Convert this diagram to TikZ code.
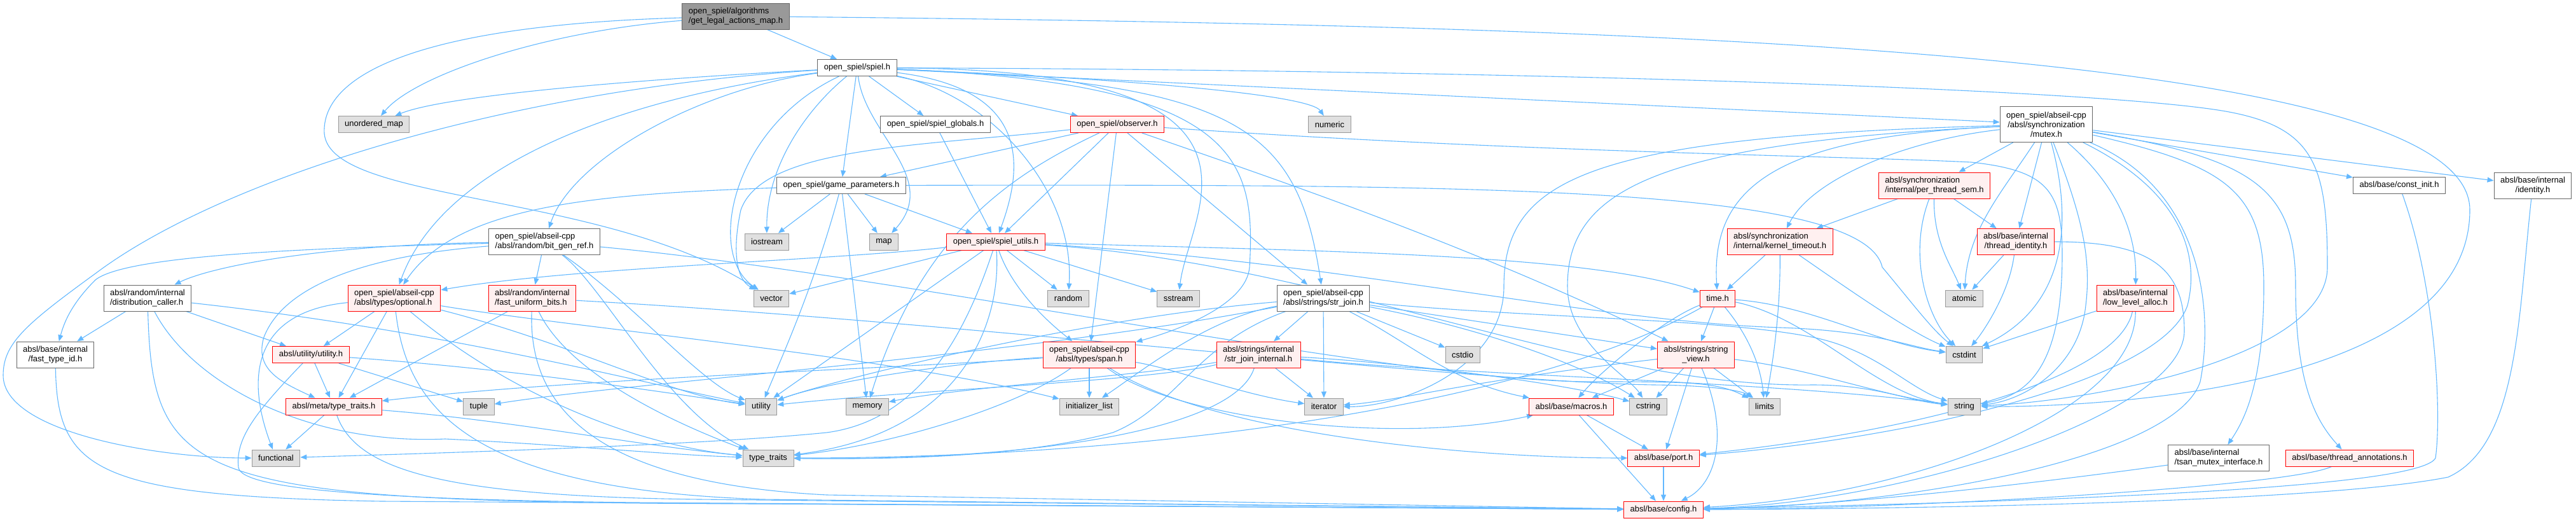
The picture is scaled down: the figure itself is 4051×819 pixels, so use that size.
\documentclass[tikz,border=0pt]{standalone}
\usepackage{fontspec}
\setmainfont{Liberation Sans}
\usetikzlibrary{arrows.meta}
\pgfdeclarelayer{bg}
\pgfsetlayers{bg,main}
\definecolor{edgec}{HTML}{63B8FF}
\definecolor{redfill}{HTML}{FFF0F0}
\definecolor{extfill}{HTML}{E0E0E0}
\definecolor{extdraw}{HTML}{999999}
\definecolor{nddraw}{HTML}{666666}
\definecolor{rootfill}{HTML}{999999}
\tikzset{
  nbox/.style={rectangle, font=\fontsize{13}{15}\selectfont, inner xsep=10pt, inner ysep=2pt, minimum height=26pt, line width=1pt, text=black},
  wn/.style={nbox, draw=nddraw, fill=white},
  xn/.style={nbox, draw=extdraw, fill=extfill},
  rn/.style={nbox, draw=red, fill=redfill},
  rootn/.style={nbox, draw=nddraw, fill=rootfill},
  twol/.style={minimum height=41pt},
  threel/.style={minimum height=56pt},
  lft/.style={align=left},
  ctr/.style={align=center},
  edg/.style={draw=edgec, line width=1.1pt, -{Triangle[length=10pt,width=8pt]}}
}
\begin{document}
\begin{tikzpicture}[x=1pt,y=-1pt]
\useasboundingbox (0,0) rectangle (4051,819);
% nodes
\node[rootn,twol,lft] (R) at (1157,25.5) {open\_spiel/algorithms\\/get\_legal\_actions\_map.h};
\node[wn] (spiel) at (1348,106.5) {open\_spiel/spiel.h};
\node[xn] (umap) at (588,195.5) {unordered\_map};
\node[wn] (globals) at (1471,195.5) {open\_spiel/spiel\_globals.h};
\node[rn] (observer) at (1757,195.5) {open\_spiel/observer.h};
\node[xn] (numeric) at (2091,195.5) {numeric};
\node[wn,threel,ctr] (mutex) at (3218,195.5) {open\_spiel/abseil-cpp\\/absl/synchronization\\/mutex.h};
\node[wn] (gp) at (1323,291.5) {open\_spiel/game\_parameters.h};
\node[rn,twol,lft] (ptsem) at (3042,291.5) {absl/synchronization\\/internal/per\_thread\_sem.h};
\node[wn] (constinit) at (3773,291.5) {absl/base/const\_init.h};
\node[wn,twol,ctr] (identity) at (3983,291.5) {absl/base/internal\\/identity.h};
\node[wn,twol,lft] (bgr) at (856,380) {open\_spiel/abseil-cpp\\/absl/random/bit\_gen\_ref.h};
\node[xn] (iostream) at (1206,380) {iostream};
\node[xn] (map) at (1390,380) {map};
\node[rn] (utils) at (1566,380) {open\_spiel/spiel\_utils.h};
\node[rn,twol,lft] (kt) at (2799,380) {absl/synchronization\\/internal/kernel\_timeout.h};
\node[rn,twol,ctr] (tid) at (3170,380) {absl/base/internal\\/thread\_identity.h};
\node[wn,twol,lft] (distc) at (232,468.5) {absl/random/internal\\/distribution\_caller.h};
\node[rn,twol,lft] (optional) at (620,468.5) {open\_spiel/abseil-cpp\\/absl/types/optional.h};
\node[rn,twol,lft] (fub) at (837,468.5) {absl/random/internal\\/fast\_uniform\_bits.h};
\node[xn] (vector) at (1213,469) {vector};
\node[xn] (random) at (1680,469) {random};
\node[xn] (sstream) at (1853,469) {sstream};
\node[wn,twol,lft] (strjoin) at (2081,468.5) {open\_spiel/abseil-cpp\\/absl/strings/str\_join.h};
\node[rn] (timeh) at (2701,469) {time.h};
\node[xn] (atomic) at (3089,469) {atomic};
\node[rn,twol,lft] (lla) at (3358,468.5) {absl/base/internal\\/low\_level\_alloc.h};
\node[wn,twol,ctr] (ftid) at (87,557.5) {absl/base/internal\\/fast\_type\_id.h};
\node[rn] (utilh) at (489,557.5) {absl/utility/utility.h};
\node[rn,twol,ctr] (span) at (1713,557.5) {open\_spiel/abseil-cpp\\/absl/types/span.h};
\node[rn,twol,ctr] (sji) at (1979,557.5) {absl/strings/internal\\/str\_join\_internal.h};
\node[xn] (cstdio) at (2300,557.5) {cstdio};
\node[rn,twol,ctr] (sv) at (2667,557.5) {absl/strings/string\\\_view.h};
\node[xn] (cstdint) at (3089,557.5) {cstdint};
\node[rn] (traits) at (525,639) {absl/meta/type\_traits.h};
\node[xn] (tuple) at (753,639) {tuple};
\node[xn] (utility) at (1197,639) {utility};
\node[xn] (memory) at (1364,639) {memory};
\node[xn] (il) at (1713,639) {initializer\_list};
\node[xn] (iterator) at (2082,639) {iterator};
\node[rn] (macros) at (2471,639) {absl/base/macros.h};
\node[xn] (cstring) at (2592,639) {cstring};
\node[xn] (limits) at (2775,639) {limits};
\node[xn] (string) at (3089,639) {string};
\node[xn] (functional) at (434,720) {functional};
\node[xn] (tt) at (1208,720) {type\_traits};
\node[rn] (port) at (2616,720) {absl/base/port.h};
\node[wn,twol,lft] (tsan) at (3489,720) {absl/base/internal\\/tsan\_mutex\_interface.h};
\node[rn] (ta) at (3695,720) {absl/base/thread\_annotations.h};
\node[rn] (config) at (2616,801) {absl/base/config.h};

\begin{pgfonlayer}{bg}
% root
\draw[edg] (R) -- (spiel);
\draw[edg] (R) .. controls (850,50) and (650,120) .. (umap);
\draw[edg] (R) .. controls (650,40) and (505,120) .. (510,210) .. controls (520,320) and (950,300) .. (vector);
\draw[edg] (R) .. controls (2600,40) and (3884,80) .. (3884,330) .. controls (3884,600) and (3350,640) .. (string);
% spiel.h
\draw[edg] (spiel) .. controls (1000,125) and (700,150) .. (umap);
\draw[edg] (spiel) .. controls (800,140) and (350,280) .. (150,430) .. controls (40,510) and (5,540) .. (5,590) .. controls (5,680) and (250,720) .. (functional);
\draw[edg] (spiel) -- (globals);
\draw[edg] (spiel) -- (observer);
\draw[edg] (spiel) .. controls (1800,125) and (2060,150) .. (numeric);
\draw[edg] (spiel) -- (mutex);
\draw[edg] (spiel) -- (gp);
\draw[edg] (spiel) .. controls (1100,140) and (900,250) .. (bgr);
\draw[edg] (spiel) .. controls (1270,170) and (1205,260) .. (iostream);
\draw[edg] (spiel) .. controls (1360,210) and (1480,280) .. (map);
\draw[edg] (spiel) .. controls (1620,140) and (1610,260) .. (utils);
\draw[edg] (spiel) .. controls (1560,150) and (1690,300) .. (random);
\draw[edg] (spiel) .. controls (2050,110) and (1870,330) .. (sstream);
\draw[edg] (spiel) .. controls (1950,130) and (1975,250) .. (1965,420) .. controls (1960,480) and (1850,520) .. (span);
\draw[edg] (spiel) .. controls (1950,130) and (2040,200) .. (strjoin);
\draw[edg] (spiel) .. controls (1000,150) and (700,250) .. (optional);
\draw[edg] (spiel) .. controls (1150,200) and (1110,400) .. (vector);
\draw[edg] (spiel) .. controls (2400,110) and (3300,140) .. (3500,175) .. controls (3640,200) and (3660,260) .. (3660,420) .. controls (3660,560) and (3300,630) .. (string);
% game_parameters
\draw[edg] (gp) .. controls (950,305) and (720,320) .. (optional);
\draw[edg] (gp) -- (iostream);
\draw[edg] (gp) -- (map);
\draw[edg] (gp) -- (utils);
\draw[edg] (gp) .. controls (1280,450) and (1230,560) .. (utility);
\draw[edg] (gp) -- (memory);
\draw[edg] (gp) .. controls (2300,290) and (2930,290) .. (2960,420) .. controls (3010,480) and (3040,520) .. (cstdint);
% globals
\draw[edg] (globals) -- (utils);
% observer
\draw[edg] (observer) -- (gp);
\draw[edg] (observer) -- (utils);
\draw[edg] (observer) .. controls (1450,230) and (1200,230) .. (1165,330) .. controls (1150,400) and (1160,440) .. (vector);
\draw[edg] (observer) .. controls (1600,270) and (1450,360) .. (memory);
\draw[edg] (observer) -- (span);
\draw[edg] (observer) -- (strjoin);
\draw[edg] (observer) .. controls (2000,280) and (2300,380) .. (sv);
\draw[edg] (observer) .. controls (2400,240) and (2900,245) .. (3100,255) .. controls (3220,268) and (3243,300) .. (3243,400) .. controls (3243,560) and (3200,620) .. (string);
% spiel_utils
\draw[edg] (utils) -- (vector);
\draw[edg] (utils) -- (random);
\draw[edg] (utils) -- (sstream);
\draw[edg] (utils) .. controls (1590,450) and (1640,500) .. (span);
\draw[edg] (utils) .. controls (1300,410) and (900,420) .. (optional);
\draw[edg] (utils) .. controls (1575,500) and (1520,680) .. (tt);
\draw[edg] (utils) -- (utility);
\draw[edg] (utils) .. controls (2100,395) and (2500,400) .. (timeh);
\draw[edg] (utils) .. controls (2100,410) and (2500,505) .. (2800,515) .. controls (2950,520) and (3000,545) .. (cstdint);
\draw[edg] (utils) .. controls (2100,415) and (2500,610) .. (2850,605) .. controls (2950,605) and (3000,630) .. (string);
\draw[edg] (utils) .. controls (1520,520) and (1450,660) .. (1300,680) .. controls (1100,700) and (700,712) .. (functional);
% bit_gen_ref
\draw[edg] (bgr) .. controls (500,385) and (330,420) .. (distc);
\draw[edg] (bgr) .. controls (500,390) and (200,400) .. (150,440) .. controls (110,480) and (100,510) .. (ftid);
\draw[edg] (bgr) .. controls (600,400) and (450,440) .. (415,530) .. controls (400,580) and (440,600) .. (traits);
\draw[edg] (bgr) -- (fub);
\draw[edg] (bgr) .. controls (1000,480) and (1100,600) .. (utility);
\draw[edg] (bgr) .. controls (950,450) and (1050,650) .. (tt);
\draw[edg] (bgr) .. controls (1400,430) and (2200,600) .. (2500,600) .. controls (2650,600) and (2700,600) .. (limits);
% distribution_caller
\draw[edg] (distc) -- (ftid);
\draw[edg] (distc) -- (utilh);
\draw[edg] (distc) .. controls (700,520) and (1000,600) .. (utility);
\draw[edg] (distc) .. controls (300,600) and (480,700) .. (700,690) .. controls (900,700) and (1050,715) .. (tt);
\draw[edg] (distc) .. controls (240,760) and (300,790) .. (1200,792) -- (config);
% fast_type_id
\draw[edg] (ftid) .. controls (90,740) and (150,780) .. (600,788) -- (config);
% optional
\draw[edg] (optional) -- (utilh);
\draw[edg] (optional) -- (traits);
\draw[edg] (optional) .. controls (400,490) and (385,590) .. (functional);
\draw[edg] (optional) .. controls (900,515) and (1400,560) .. (il);
\draw[edg] (optional) .. controls (900,540) and (1050,620) .. (utility);
\draw[edg] (optional) .. controls (800,620) and (1000,700) .. (tt);
\draw[edg] (optional) .. controls (640,650) and (750,770) .. (1200,785) -- (config);
% fast_uniform_bits
\draw[edg] (fub) -- (traits);
\draw[edg] (fub) .. controls (830,650) and (950,760) .. (1300,778) -- (config);
\draw[edg] (fub) .. controls (900,600) and (1100,680) .. (tt);
\draw[edg] (fub) .. controls (1500,505) and (2300,600) .. (2600,605) .. controls (2700,606) and (2740,615) .. (limits);
% utility.h
\draw[edg] (utilh) -- (traits);
\draw[edg] (utilh) -- (tuple);
\draw[edg] (utilh) .. controls (800,580) and (1000,610) .. (utility);
\draw[edg] (utilh) .. controls (400,650) and (370,690) .. (375,735) .. controls (380,770) and (600,785) .. (1000,790) -- (config);
% meta/type_traits
\draw[edg] (traits) -- (functional);
\draw[edg] (traits) .. controls (800,660) and (1000,700) .. (tt);
\draw[edg] (traits) .. controls (560,740) and (700,780) .. (1100,785) -- (config);
% span
\draw[edg] (span) -- (il);
\draw[edg] (span) .. controls (1500,570) and (1300,600) .. (utility);
\draw[edg] (span) .. controls (1600,640) and (1400,700) .. (tt);
\draw[edg] (span) .. controls (1850,580) and (1950,620) .. (iterator);
\draw[edg] (span) .. controls (1850,660) and (2200,700) .. (macros);
\draw[edg] (span) .. controls (1900,680) and (2300,720) .. (port);
\draw[edg] (span) .. controls (1400,580) and (900,595) .. (traits);
% str_join
\draw[edg] (strjoin) -- (sji);
\draw[edg] (strjoin) -- (iterator);
\draw[edg] (strjoin) .. controls (2220,540) and (2280,600) .. (macros);
\draw[edg] (strjoin) -- (cstdio);
\draw[edg] (strjoin) .. controls (2350,520) and (2500,580) .. (cstring);
\draw[edg] (strjoin) -- (sv);
\draw[edg] (strjoin) .. controls (1900,500) and (1800,580) .. (il);
\draw[edg] (strjoin) .. controls (1700,500) and (1300,600) .. (utility);
\draw[edg] (strjoin) .. controls (1880,540) and (1850,640) .. (1750,680) .. controls (1600,720) and (1400,722) .. (tt);
\draw[edg] (strjoin) .. controls (1600,560) and (1000,600) .. (tuple);
\draw[edg] (strjoin) .. controls (2400,500) and (2700,500) .. (2850,530) .. controls (2950,550) and (3000,610) .. (string);
% str_join_internal
\draw[edg] (sji) -- (iterator);
\draw[edg] (sji) .. controls (1800,590) and (1500,610) .. (memory);
\draw[edg] (sji) .. controls (1800,600) and (1450,612) .. (utility);
\draw[edg] (sji) .. controls (2300,590) and (2800,600) .. (string);
\draw[edg] (sji) .. controls (1940,680) and (1600,725) .. (tt);
\draw[edg] (sji) .. controls (2200,570) and (2450,600) .. (cstring);
% string_view
\draw[edg] (sv) .. controls (2300,600) and (2200,630) .. (iterator);
\draw[edg] (sv) -- (macros);
\draw[edg] (sv) -- (cstring);
\draw[edg] (sv) -- (port);
\draw[edg] (sv) .. controls (2720,680) and (2700,760) .. (config);
\draw[edg] (sv) -- (limits);
\draw[edg] (sv) .. controls (2850,580) and (2950,620) .. (string);
% time.h
\draw[edg] (timeh) .. controls (2620,500) and (2520,580) .. (macros);
\draw[edg] (timeh) -- (sv);
\draw[edg] (timeh) .. controls (2850,480) and (2950,540) .. (cstdint);
\draw[edg] (timeh) .. controls (2850,500) and (2950,620) .. (string);
\draw[edg] (timeh) .. controls (2760,540) and (2770,590) .. (limits);
\draw[edg] (timeh) .. controls (2400,640) and (1800,720) .. (tt);
% kernel_timeout
\draw[edg] (kt) -- (timeh);
\draw[edg] (kt) .. controls (2800,480) and (2790,560) .. (limits);
\draw[edg] (kt) .. controls (2900,450) and (3000,520) .. (cstdint);
% mutex
\draw[edg] (mutex) -- (ptsem);
\draw[edg] (mutex) -- (tid);
\draw[edg] (mutex) .. controls (3000,220) and (2850,280) .. (kt);
\draw[edg] (mutex) .. controls (2800,215) and (2690,290) .. (timeh);
\draw[edg] (mutex) .. controls (3150,300) and (3095,360) .. (atomic);
\draw[edg] (mutex) .. controls (3260,350) and (3250,480) .. (cstdint);
\draw[edg] (mutex) .. controls (2600,225) and (2465,300) .. (2465,450) .. controls (2465,540) and (2560,590) .. (cstring);
\draw[edg] (mutex) .. controls (2500,215) and (2365,280) .. (2365,450) .. controls (2365,580) and (2200,640) .. (iterator);
\draw[edg] (mutex) .. controls (3270,330) and (3290,400) .. (3280,480) .. controls (3270,580) and (3180,630) .. (string);
\draw[edg] (mutex) -- (constinit);
\draw[edg] (mutex) -- (identity);
\draw[edg] (mutex) .. controls (3340,300) and (3360,380) .. (lla);
\draw[edg] (mutex) .. controls (3500,260) and (3560,300) .. (3560,450) .. controls (3560,600) and (3530,660) .. (tsan);
\draw[edg] (mutex) .. controls (3550,250) and (3610,300) .. (3610,450) .. controls (3610,600) and (3640,660) .. (ta);
\draw[edg] (mutex) .. controls (3430,300) and (3460,400) .. (3440,480) .. controls (3400,600) and (3000,690) .. (port);
\draw[edg] (mutex) .. controls (3470,300) and (3480,500) .. (3460,600) .. controls (3420,720) and (3000,795) .. (config);
% per_thread_sem
\draw[edg] (ptsem) -- (kt);
\draw[edg] (ptsem) -- (tid);
\draw[edg] (ptsem) .. controls (3040,380) and (3070,420) .. (atomic);
\draw[edg] (ptsem) .. controls (3000,400) and (3030,500) .. (cstdint);
% thread_identity
\draw[edg] (tid) -- (atomic);
\draw[edg] (tid) .. controls (3160,460) and (3120,520) .. (cstdint);
\draw[edg] (tid) .. controls (3380,380) and (3435,420) .. (3435,520) .. controls (3435,650) and (3000,790) .. (config);
% low_level_alloc
\draw[edg] (lla) -- (cstdint);
\draw[edg] (lla) .. controls (3330,600) and (3000,680) .. (port);
\draw[edg] (lla) .. controls (3360,650) and (3000,780) .. (config);
% bottom row
\draw[edg] (tsan) .. controls (3200,760) and (2900,795) .. (config);
\draw[edg] (ta) .. controls (3600,765) and (3000,800) .. (config);
\draw[edg] (constinit) .. controls (3830,450) and (3840,650) .. (3830,720) .. controls (3810,760) and (3400,785) .. (config);
\draw[edg] (identity) .. controls (3960,500) and (3960,700) .. (3850,750) .. controls (3650,790) and (3000,800) .. (config);
\draw[edg] (macros) -- (port);
\draw[edg] (macros) -- (config);
\draw[edg] (port) -- (config);
\end{pgfonlayer}
\end{tikzpicture}
\end{document}
